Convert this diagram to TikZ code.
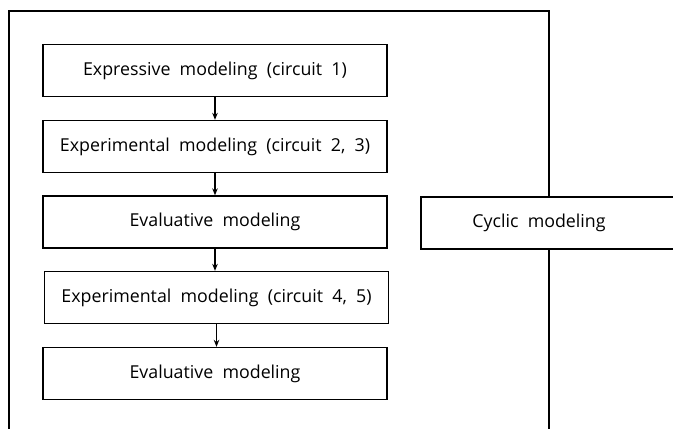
\documentclass[tikz,border=0pt]{standalone}
\usepackage{fontspec}
\setmainfont{Open Sans}
\usetikzlibrary{arrows.meta, positioning}

\tikzset{
	stepbox/.style={draw, line width=1.3pt, fill=white, minimum width=344pt, minimum height=52pt, inner sep=0pt, font=\fontsize{17.8}{20}\selectfont},
	flow/.style={-{Stealth[length=7pt, width=5.5pt]}, line width=1.3pt}
}

\begin{document}
\begin{tikzpicture}[x=1pt, y=-1pt]
			\useasboundingbox (0,0) rectangle (673,429);
			\clip (0,0) rectangle (673,429);
			% Frame
			\draw[line width=1.5pt] (9,440) -- (9,11) -- (549,11) -- (549,440);
			
			% Modeling steps
			\node[stepbox] (expr) at (215,70.5) {Expressive~ modeling~ (circuit~ 1)};
			\node[stepbox] (exp1) at (215,146.5) {Experimental~ modeling~ (circuit~ 2,~ 3)};
			\node[stepbox] (eval1) at (215,222) {Evaluative~ modeling};
			\node[stepbox] (exp2) at (216.5,297.5) {Experimental~ modeling~ (circuit~ 4,~ 5)};
			\node[stepbox] (eval2) at (215,373.5) {Evaluative~ modeling};
			
			% Cyclic box, open to the right
			\fill[white] (421,197) rectangle (690,249);
			\draw[line width=1.3pt] (690,197) -- (421,197) -- (421,249) -- (690,249);
			\node[font=\fontsize{17.8}{20}\selectfont] (cyc) at (539,223) {Cyclic~ modeling};
			
			% Arrows
			\draw[flow] (expr) -- (exp1);
			\draw[flow] (exp1) -- (eval1);
			\draw[flow] (eval1.south) -- (eval1.south |- exp2.north);
			\draw[flow] (exp2) -- (exp2 |- eval2.north);
		\end{tikzpicture}
\end{document}
